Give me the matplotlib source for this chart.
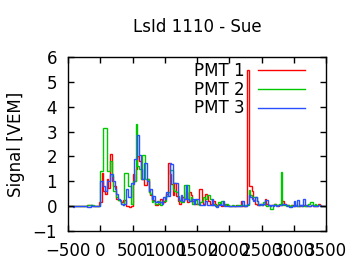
import numpy as np
import matplotlib
matplotlib.use("Agg")
import matplotlib.pyplot as plt

title = "LsId 1110 - Sue"
ylabel = "Signal [VEM]"
labels = ["PMT 1", "PMT 2", "PMT 3"]
t_start = -500
bin_ns = 25
xticks = [-500, 0, 500, 1000, 1500, 2000, 2500, 3000, 3500]
yticks = [-1, 0, 1, 2, 3, 4, 5, 6]

pmt1 = [
    0, 0, 0, 0, 0, 0, 0, 0, 0, 0, 0, 0, 0.05, 0.05, 0.05, 0, 0, 0, 0, 0.15,
    0.15, 1.35, 0.6, 0.5, 1.1, 0.75, 2.1, 1.0, 0.8, 0.8, 0.3, 0.25, 0.2, 0.15, 0.25, 0.25, 0.0, 0.0, -0.05, 0.0,
    1.3, 1.0, 1.5, 2.0, 1.8, 1.1, 1.1, 0.85, 0.85, 1.1, 0.55, 0.45, 0.25, 0.25, 0.05, 0.05, 0.1, 0.3, 0.2, 0.15,
    0.35, 0.5, 1.72, 1.3, 0.9, 0.45, 0.95, 0.4, 0.2, 0.1, 0.3, 0.35, 0.3, 0.55, 0.15, 0.55, 0.45, 0.2, 0.1, 0.1,
    0.1, 0.7, 0.7, 0.15, 0.1, 0.5, 0.4, 0.2, 0.1, 0.05, 0.2, 0.1, 0.05, 0.1, 0.05, 0.0, 0.05, 0.1, 0.05, 0.0,
    0, 0, 0, 0, 0.05, 0, 0, 0.2, 0, 0, 0, 5.47, 0.8, 0.8, 0.6, 0.25, 0.1, 0.05, 0.05, 0.1,
    0.05, 0.1, 0.3, 0.1, 0.05, 0.0, 0.05, 0.05, 0.1, 0.05, 0.0, 0.05, 0.05, 0.2, 0.1, 0.05, 0.05, 0.0, 0.05, 0.05,
    0.0, 0.05, 0.0, 0.05, 0.0, 0.05, 0.05, 0.0, 0.05, 0.0, 0.0, 0.05, 0.0, 0.0, 0.0, 0.1, 0.05, 0.0, 0.0, 0.0,
]
pmt2 = [
    0, 0, 0, 0, 0, 0, 0, 0, 0, 0, 0, 0, 0.05, 0.05, 0.05, 0.05, 0, 0, 0, 0,
    1.4, 1.4, 3.15, 3.15, 1.4, 1.4, 1.8, 1.2, 0.6, 0.6, 0.35, 0.25, 0.2, 0.1, 0.05, 1.35, 1.35, 0.8, 0.8, 0.1,
    1.0, 1.0, 3.3, 1.6, 1.5, 1.1, 2.05, 2.05, 1.1, 1.1, 0.55, 0.5, 0.15, 0.2, 0.1, 0.1, 0.2, 0.05, 0.15, 0.2,
    0.2, 0.4, 0.55, 1.45, 1.45, 0.7, 0.6, 0.55, 0.4, 0.2, 0.15, 0.15, 0.85, 0.3, 0.85, 0.2, 0.35, 0.1, 0.2, 0.25,
    0.1, 0.05, 0.15, 0.2, 0.35, 0.3, 0.45, 0.45, 0.3, 0.05, 0.1, 0.05, 0.0, 0.15, 0.1, 0.2, 0.1, 0.05, 0.1, 0.05,
    0, 0, 0.05, 0, 0, 0.05, 0.05, 0, 0.05, 0, 0.05, 0.05, 0.65, 0.45, 0.35, 0.35, 0.38, 0.2, 0.1, 0.05,
    0.1, 0.15, 0.05, 0.0, 0.05, -0.1, -0.1, 0.05, 0.1, 0.05, 0.05, 0.1, 1.36, 0.05, 0.05, 0.0, 0.05, 0.0, 0.05, 0.0,
    0.0, 0.05, 0.0, 0.0, 0.05, 0.0, 0.0, 0.0, 0.05, 0.1, 0.15, 0.15, 0.05, 0.1, 0.05, 0.05, 0.0, 0.0, 0.0, 0.0,
]
pmt3 = [
    0, 0, 0, -0.05, 0, 0, 0, 0, 0, 0, 0, 0, -0.03, -0.03, 0.05, 0, 0, 0, 0, 0,
    1.0, 1.0, 0.8, 0.6, 1.0, 1.0, 1.3, 1.3, 1.0, 0.7, 0.5, 0.3, 0.25, 0.1, 0.05, 0.1, 0.7, 0.35, 0.35, 0.95,
    0.9, 1.9, 1.9, 2.85, 2.05, 1.5, 1.1, 1.75, 1.75, 1.0, 0.6, 0.7, 0.3, 0.4, 0.15, 0.2, 0.15, 0.15, 0.1, 0.35,
    0.3, 0.55, 0.4, 1.75, 1.7, 0.92, 0.92, 0.92, 0.35, 0.25, 0.45, 0.2, 0.3, 0.85, 0.3, 0.2, 0.2, 0.3, 0.1, 0.3,
    0.3, 0.1, 0.05, 0.05, 0.05, 0.2, 0.05, 0.05, 0.05, 0.3, 0.05, 0.0, -0.05, 0.05, 0.1, 0.05, 0.2, 0.0, 0.0, 0.0,
    0, 0, 0, 0, 0, 0, 0, 0, 0.2, 0, 0, 0.1, 0.45, 0.35, 0.3, 0.2, 0.35, 0.2, 0.05, 0.1,
    0.05, 0.1, 0.25, 0.25, 0.05, 0.0, 0.05, 0.0, 0.05, 0.0, 0.05, 0.05, 0.05, 0.1, 0.1, 0.05, 0.0, -0.05, -0.05, 0.0,
    0.2, 0.0, 0.25, 0.0, 0.05, 0.0, 0.3, 0.05, 0.0, 0.0, 0.0, 0.05, 0.0, 0.0, 0.0, 0.05, 0.0, 0.0, 0.0, 0.0,
]
colors = ["#ff0000", "#00c800", "#2850ff"]

plt.rcParams['font.family'] = ['DejaVu Sans']
fig = plt.figure(figsize=(3.6, 2.7), dpi=100)
ax = fig.add_axes([68/360, 39/270, 258/360, 174/270])

for vals, lab, col in zip([pmt1, pmt2, pmt3], labels, colors):
    v = np.array(vals)
    edges = t_start + bin_ns * np.arange(len(v) + 1)
    ax.stairs(v, edges, color=col, linewidth=1.0, label=lab)

ax.set_xlim(-500, 3500)
ax.set_ylim(-1, 6)
ax.set_xticks(xticks)
ax.set_yticks(yticks)
ax.tick_params(direction='in', top=True, right=True, length=4, width=1,
               labelsize=12)
ax.tick_params(axis='x', pad=8)
ax.tick_params(axis='y', pad=8)
for s in ax.spines.values():
    s.set_linewidth(1.0)
ax.set_title(title, fontsize=12, pad=18)
ax.set_ylabel(ylabel, fontsize=12, labelpad=5.5)
ax.legend(loc='upper right', bbox_to_anchor=(0.919, 0.973), frameon=False,
          markerfirst=False, fontsize=12, handlelength=2.8, handletextpad=0.8,
          labelspacing=0.05, borderpad=0, borderaxespad=0)

fig.savefig("out.png", dpi=100)
